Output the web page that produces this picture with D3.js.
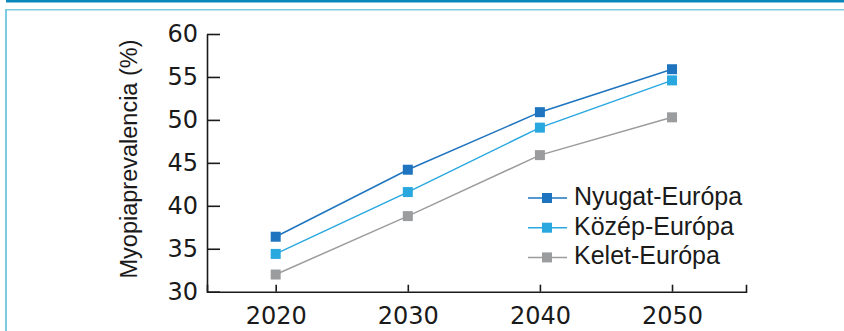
<!DOCTYPE html>
<html>
<head>
<meta charset="utf-8">
<script src="https://cdn.jsdelivr.net/npm/d3@7"></script>
<style>
  html, body { margin: 0; padding: 0; background: #fff; }
  svg { display: block; }
  .tick text { font-family: "DejaVu Sans", sans-serif; font-size: 24px; fill: #1a1a1a; }
  .axis path, .axis line { stroke: #1a1a1a; stroke-width: 1.6; }
</style>
</head>
<body>
<svg id="chart" width="844" height="331"></svg>
<script>
const years = [2020, 2030, 2040, 2050];
const nyugat = [36.4, 44.2, 50.9, 55.9];
const kozep = [34.4, 41.6, 49.1, 54.6];
const kelet = [32.0, 38.8, 45.9, 50.3];
const yTicks = [30, 35, 40, 45, 50, 55, 60];

const series = [
  { name: 'Nyugat-Európa', values: nyugat, color: '#1f74bf' },
  { name: 'Közép-Európa', values: kozep, color: '#29a8e0' },
  { name: 'Kelet-Európa', values: kelet, color: '#9a9c9e' }
];

const svg = d3.select('#chart');

// frame
svg.append('rect')
  .attr('x', 6).attr('y', 0).attr('width', 838).attr('height', 2.5)
  .attr('fill', '#0a88bb');
svg.append('rect')
  .attr('x', 5).attr('y', 9).attr('width', 839).attr('height', 1.5)
  .attr('fill', '#7ccbe3');
svg.append('rect')
  .attr('x', 5).attr('y', 9).attr('width', 2).attr('height', 322)
  .attr('fill', '#7ccbe3');

const x = d3.scaleLinear().domain([2014.8, 2055.6]).range([207, 746]);
const y = d3.scaleLinear().domain([30, 60]).range([291.7, 34]);

svg.append('g')
  .attr('class', 'axis')
  .attr('transform', `translate(0,${y(30)})`)
  .call(d3.axisBottom(x).tickValues(years).tickFormat(d3.format('d'))
    .tickSizeInner(-7).tickSizeOuter(-7).tickPadding(10))
  .selectAll('.tick text').attr('dy', '0.95em');

svg.append('g')
  .attr('class', 'axis')
  .attr('transform', `translate(${x(2014.8)},0)`)
  .call(d3.axisLeft(y).tickValues(yTicks).tickSizeInner(-13).tickSizeOuter(0).tickPadding(9));

svg.append('text')
  .attr('transform', 'translate(136.5,159) rotate(-90)')
  .attr('text-anchor', 'middle')
  .style('font-family', '"Liberation Sans", Arial, sans-serif')
  .style('font-size', '23.5px')
  .attr('fill', '#1a1a1a')
  .text('Myopiaprevalencia (%)');

const line = d3.line()
  .x((d, i) => x(years[i]))
  .y(d => y(d));

series.forEach(s => {
  svg.append('path')
    .datum(s.values)
    .attr('d', line)
    .attr('fill', 'none')
    .attr('stroke', s.color)
    .attr('stroke-width', 1.5);
  svg.selectAll(null)
    .data(s.values)
    .join('rect')
    .attr('x', (d, i) => x(years[i]) - 5)
    .attr('y', d => y(d) - 5)
    .attr('width', 10).attr('height', 10)
    .attr('fill', s.color);
});

// legend
const legend = svg.append('g');
series.forEach((s, i) => {
  const base = 205 + i * 29.7;
  const row = legend.append('g');
  row.append('line')
    .attr('x1', 528).attr('x2', 567)
    .attr('y1', base - 7).attr('y2', base - 7)
    .attr('stroke', s.color).attr('stroke-width', 1.5);
  row.append('rect')
    .attr('x', 542).attr('y', base - 12)
    .attr('width', 10).attr('height', 10)
    .attr('fill', s.color);
  row.append('text')
    .attr('x', 574).attr('y', base)
    .style('font-family', '"Liberation Sans", Arial, sans-serif')
    .style('font-size', '25px')
    .attr('fill', '#1a1a1a')
    .text(s.name);
});
</script>
</body>
</html>
